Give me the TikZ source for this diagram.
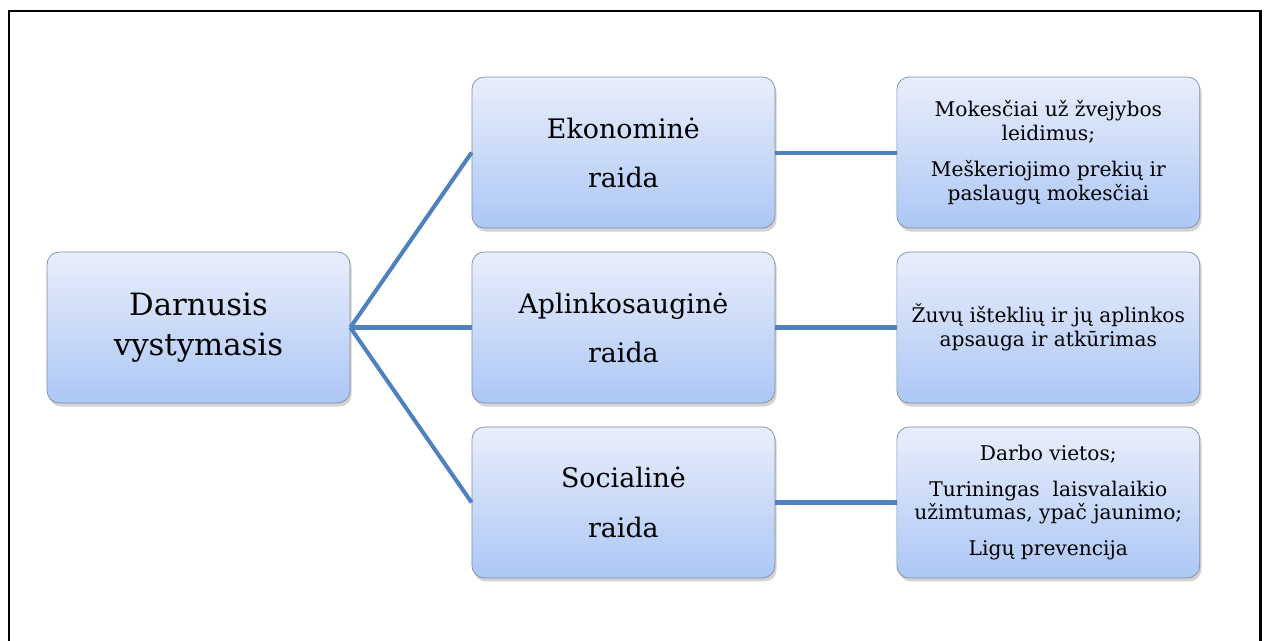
\documentclass[tikz,border=0pt]{standalone}
\usepackage{fontspec}
\setmainfont{DejaVu Serif}
\usepackage{tikz}
\usetikzlibrary{positioning}
\usetikzlibrary{shadows}
\definecolor{boxtop}{RGB}{233,238,251}
\definecolor{boxbottom}{RGB}{172,199,245}
\definecolor{boxline}{RGB}{130,140,160}
\definecolor{linkblue}{RGB}{79,129,189}
\tikzset{	node distance=8.5cm,
	block/.style={
		rounded corners=7pt,
		draw=boxline, thin,
		top color=boxtop, bottom color=boxbottom,
		drop shadow={shadow xshift=1pt, shadow yshift=-2pt, opacity=0.35},
		minimum width=6.06cm, minimum height=3.02cm,
		align=center},
	rootblock/.style={block, font=\fontsize{17.5}{22.7}\selectfont},
	midblock/.style={block, font=\fontsize{15.3}{28}\selectfont},
	leafblock/.style={block, font=\fontsize{11.5}{13.5}\selectfont},
	every edge/.style={
		draw,
		linkblue,
		line width=2.3pt}
}

\begin{document}
\begin{tikzpicture}[x=0.02cm, y=-0.02cm]
	\useasboundingbox (0,0) rectangle (1266,640);
	\draw[line width=1.4pt] (9,645) -- (9,11) -- (1260.5,11) -- (1260.5,645);
	\node[rootblock] (root) at (198.5,327.5) {Darnusis\\vystymasis};
	\node[midblock, right of=root] (envir) {Aplinkosauginė\\raida};
	\node[midblock, above of=envir, node distance=3.5cm] (econ) {Ekonominė\\raida};
	\node[midblock, below of=envir, node distance=3.5cm] (social) {Socialinė\\raida};
	\node[leafblock, right of=econ] (econleaf) {Mokesčiai už žvejybos\\leidimus;\\[7pt]Meškeriojimo prekių ir\\paslaugų mokesčiai};
	\node[leafblock, right of=envir] (envirleaf) {Žuvų išteklių ir jų aplinkos\\apsauga ir atkūrimas};
	\node[leafblock, right of=social] (socialleaf) {Darbo vietos;\\[7pt]Turiningas~ laisvalaikio\\užimtumas, ypač jaunimo;\\[7pt]Ligų prevencija};
	\draw (root.east) edge (econ.west);
	\draw (root.east) edge (envir.west);
	\draw (root.east) edge (social.west);
	\draw (econ.east) edge (econleaf.west);
	\draw (envir.east) edge (envirleaf.west);
	\draw (social.east) edge (socialleaf.west);
\end{tikzpicture}
\end{document}
